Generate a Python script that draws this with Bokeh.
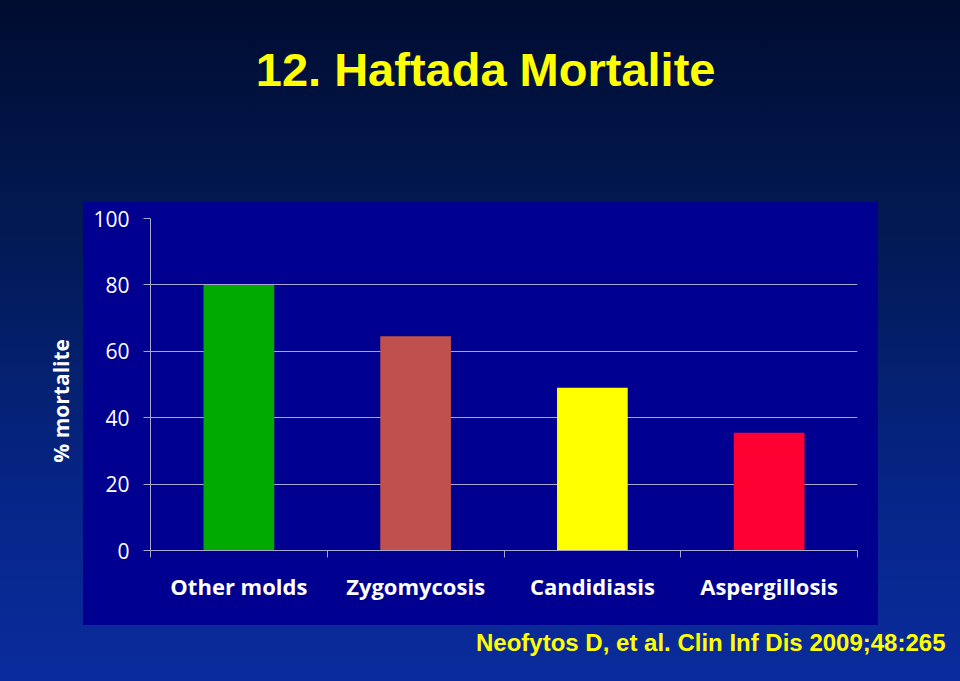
from bokeh.plotting import figure
from bokeh.models import Range1d, FixedTicker, ColumnDataSource, Title
from bokeh.layouts import column
from bokeh.core.properties import value
from bokeh.embed import file_html
from bokeh.resources import INLINE

categories = ["Other molds", "Zygomycosis", "Candidiasis", "Aspergillosis"]
mortality = [80.0, 64.5, 49.0, 35.5]
bar_colors = ["#00aa00", "#c0504d", "#ffff00", "#ff0033"]
y_ticks = [0, 20, 40, 60, 80, 100]

title_text = "12. Haftada Mortalite"
ylabel_text = "% mortalite"
cite_text = "Neofytos D, et al. Clin Inf Dis 2009;48:265"

W = 960
H_TOP, H_MAIN = 202, 479
ARIAL_NAME = "'Liberation Sans', Arial, sans-serif"

# ---- title strip (its frame is aligned with the chart frame by the column layout)
top = figure(width=W, height=H_TOP, output_backend="svg", toolbar_location=None,
             x_range=Range1d(0, W), y_range=Range1d(H_TOP, 0),
             x_axis_type=None, y_axis_type=None, min_border=0, title=None)
top.border_fill_color = None
top.background_fill_color = None
top.outline_line_color = None
top.xgrid.visible = False
top.ygrid.visible = False
top.text(x=[455], y=[69], text=[title_text], text_align="center", text_baseline="alphabetic",
         text_color="#ffff00", text_font=value(ARIAL_NAME), text_font_style="bold",
         text_font_size="47px")

# ---- main chart
x_pos = [i + 0.5 for i in range(len(categories))]
src = ColumnDataSource(dict(x=x_pos, top=mortality, color=bar_colors))

p = figure(width=W, height=H_MAIN, output_backend="svg", toolbar_location=None, title=None,
           x_range=Range1d(0, len(categories)), y_range=Range1d(0, 100),
           min_border_left=150, min_border_right=103, min_border_top=16, min_border_bottom=131)
p.border_fill_color = None
p.background_fill_color = None
p.outline_line_color = None

p.vbar(x="x", top="top", width=0.4, color="color", source=src, line_color=None)

grid_col = "#a8a8d0"
p.yaxis.ticker = FixedTicker(ticks=y_ticks)
p.yaxis.axis_line_color = grid_col
p.yaxis.major_tick_line_color = grid_col
p.yaxis.major_tick_out = 7
p.yaxis.major_tick_in = 0
p.yaxis.minor_tick_line_color = None
p.yaxis.major_label_text_color = "white"
p.yaxis.major_label_text_font = "Open Sans"
p.yaxis.major_label_text_font_size = "21px"
p.yaxis.major_label_standoff = 14
p.yaxis.axis_label = ylabel_text + "\u00a0" * 6
p.yaxis.axis_label_text_color = "white"
p.yaxis.axis_label_text_font = "Open Sans"
p.yaxis.axis_label_text_font_style = "bold"
p.yaxis.axis_label_text_font_size = "21px"
p.yaxis.axis_label_standoff = 15

p.ygrid.ticker = FixedTicker(ticks=y_ticks)
p.ygrid.grid_line_color = grid_col
p.ygrid.grid_line_width = 1.2
p.xgrid.grid_line_color = None

p.xaxis.ticker = FixedTicker(ticks=x_pos, minor_ticks=list(range(len(categories) + 1)))
p.xaxis.major_label_overrides = {x: c for x, c in zip(x_pos, categories)}
p.xaxis.axis_line_color = grid_col
p.xaxis.major_tick_line_color = None
p.xaxis.minor_tick_line_color = grid_col
p.xaxis.minor_tick_out = 7
p.xaxis.minor_tick_in = 0
p.xaxis.major_label_text_color = "white"
p.xaxis.major_label_text_font = "Open Sans"
p.xaxis.major_label_text_font_style = "bold"
p.xaxis.major_label_text_font_size = "22px"
p.xaxis.major_label_standoff = 13

# citation below the chart
p.add_layout(Title(text=cite_text, align="right", text_color="#ffff00",
                   text_font=ARIAL_NAME, text_font_style="bold",
                   text_font_size="24px", offset=-88, standoff=46), "below")

page = column(top, p, spacing=0, styles={"background": (
    "linear-gradient(#000090, #000090) 83px 202px / 795px 423px no-repeat, "
    "linear-gradient(to bottom, #000c30 0%, #021a55 35%, #06268a 75%, #0a2b9c 100%)")})

open("out.html", "w").write(file_html(page, INLINE))
